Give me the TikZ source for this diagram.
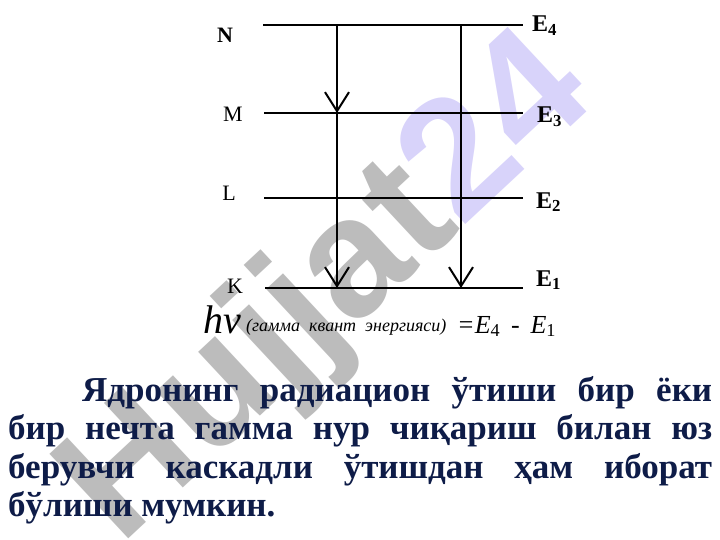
\documentclass[tikz,border=0pt]{standalone}
\usepackage{fontspec}
\setmainfont{Liberation Serif}
\newfontfamily\wmfont{Liberation Sans}
\usetikzlibrary{arrows.meta}
\definecolor{navy}{RGB}{14,28,72}
\definecolor{wmgrey}{RGB}{188,188,188}
\definecolor{wmlav}{RGB}{216,211,250}

\begin{document}
\begin{tikzpicture}[x=1pt,y=-1pt,
    level/.style={line width=2.6pt},
    trans/.style={line width=2.4pt,-{Straight Barb[length=19pt,width=24pt,line width=2pt]}},
    shell/.style={anchor=base,inner sep=0pt,font=\fontsize{22}{22}\selectfont},
    elab/.style={anchor=base west,inner sep=0pt,font=\fontsize{24}{24}\selectfont\bfseries}]
    \useasboundingbox (0,0) rectangle (720,540);
    \clip (0,0) rectangle (720,540);
    % watermark
    \node[rotate=43,inner sep=0pt,font=\wmfont\bfseries\fontsize{168}{168}\selectfont] (wm) at (330,292)
        {\textcolor{wmgrey}{Hujjat}\textcolor{wmlav}{24}};
    % levels
    \coordinate (n0) at (263,25);
    \coordinate (n9) at (523,25);
    \coordinate (m0) at (264,113);
    \coordinate (m9) at (523,113);
    \coordinate (l0) at (264,198);
    \coordinate (l9) at (523,198);
    \coordinate (k0) at (265,288);
    \coordinate (k9) at (523,288);
    \coordinate (a1) at (337,25);
    \coordinate (a2) at (337,113);
    \coordinate (a3) at (337,288);
    \coordinate (b1) at (461,25);
    \coordinate (b2) at (461,288);
    \draw [level] (n0) -- (n9);
    \draw [level] (m0) -- (m9);
    \draw [level] (l0) -- (l9);
    \draw [level] (k0) -- (k9);
    \draw [trans] (a1) -- (a2);
    \draw [trans] (a2) -- (a3);
    \draw [trans] (b1) -- (b2);
    \node[shell,font=\fontsize{22}{22}\selectfont\bfseries] (N) at (225,43) {N};
    \node[shell] (M) at (233,122) {M};
    \node[shell] (L) at (229,201) {L};
    \node[shell] (K) at (235,293) {K};
    \node[elab] (e4) at (532,32) {E\textsubscript{4}};
    \node[elab] (e3) at (537,123) {E\textsubscript{3}};
    \node[elab] (e2) at (536,208) {E\textsubscript{2}};
    \node[elab] (e1) at (536,286) {E\textsubscript{1}};
    % formula
    \node[anchor=base west,inner sep=0pt,font=\fontsize{40}{40}\selectfont\itshape] (hnu) at (203,333) {hν};
    \node[anchor=base west,inner sep=0pt,font=\fontsize{18}{18}\selectfont\itshape] (gq) at (246,331)
        {(гамма\ \ квант\ \ энергияси)};
    \node[anchor=base west,inner sep=0pt,font=\fontsize{26}{26}\selectfont\itshape] (eq) at (457,333)
        {=E\textsubscript{\upshape 4} \,-\, E\textsubscript{\upshape 1}};
    % text
    \node[anchor=north west,inner sep=0pt,text width=704pt,align=justify,text=navy,
        font=\bfseries\fontsize{35}{38.5}\selectfont] (txt) at (8,376)
        {\hyphenpenalty=10000\hspace*{74pt}Ядронинг радиацион ўтиши бир ёки\linebreak
         бир нечта гамма нур чиқариш билан юз\linebreak
         берувчи каскадли ўтишдан ҳам иборат\linebreak
         бўлиши мумкин.};
\end{tikzpicture}
\end{document}
